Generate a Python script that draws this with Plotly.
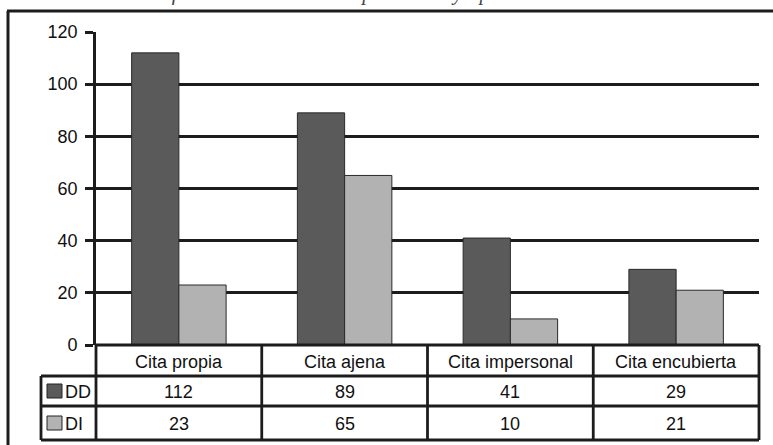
import plotly.graph_objects as go

categories = ["Cita propia", "Cita ajena", "Cita impersonal", "Cita encubierta"]
series_names = ["DD", "DI"]
dd_values = [112, 89, 41, 29]
di_values = [23, 65, 10, 21]
y_ticks = [0, 20, 40, 60, 80, 100, 120]
title_text = "Gráfico 3. Estilo de cita reproducida y tipo de cita"

W, H = 773, 445
L, R, T, B = 96, 759, 32, 345
colors = ["#5a5a5a", "#b2b2b2"]
LINE = "#1c1c1c"
FONT = "Liberation Sans, Arial, sans-serif"
FS = 18

def px(x):
    return (x - L) / (R - L)

def py(y):
    return (B - y) / (B - T)

fig = go.Figure()
for name, vals, col in zip(series_names, [dd_values, di_values], colors):
    fig.add_trace(go.Bar(x=categories, y=vals, name=name,
                         marker=dict(color=col, line=dict(color="#2a2a2a", width=1))))

shapes = []
def hline(x0, x1, y, w=2.8):
    shapes.append(dict(type="line", xref="paper", yref="paper", x0=px(x0), x1=px(x1),
                       y0=py(y), y1=py(y), line=dict(color=LINE, width=w)))
def vline(x, y0, y1, w=2.8):
    shapes.append(dict(type="line", xref="paper", yref="paper", x0=px(x), x1=px(x),
                       y0=py(y0), y1=py(y1), line=dict(color=LINE, width=w)))

# outer frame
hline(7, 773, 11, 3)
vline(8, 11, 445, 3)

# table
col_edges = [L + i * (R - L) / 4 for i in range(5)]
row_y = [345, 376, 406, 440]
for x in col_edges:
    vline(x, 345, 440)
vline(41, 376, 440)
hline(41, R, 376)
hline(41, R, 406)
hline(41, R, 440)
hline(L, R, 345)

annotations = []
def txt(s, x, y, xanchor="center", **kw):
    annotations.append(dict(text=s, x=px(x), y=py(y), xref="paper", yref="paper",
                            xanchor=xanchor, yanchor="middle", showarrow=False,
                            font=dict(family=FONT, size=FS, color="#111"), **kw))

for i, cat in enumerate(categories):
    cx = (col_edges[i] + col_edges[i + 1]) / 2
    txt(cat, cx, (row_y[0] + row_y[1]) / 2 + 1)
    for r, vals in enumerate([dd_values, di_values]):
        txt(str(vals[i]), cx, (row_y[r + 1] + row_y[r + 2]) / 2 + 1)

# legend keys in table
for r, (name, col) in enumerate(zip(series_names, colors)):
    yc = (row_y[r + 1] + row_y[r + 2]) / 2
    shapes.append(dict(type="rect", xref="paper", yref="paper",
                       x0=px(47), x1=px(62), y0=py(yc - 7), y1=py(yc + 7),
                       fillcolor=col, line=dict(color="#222", width=1)))
    txt(name, 63, yc + 1, xanchor="left")

# title, cut off at the top edge as in the source scan
annotations.append(dict(text=title_text, x=px(350), y=py(7), xref="paper", yref="paper",
                        xanchor="center", yanchor="bottom", showarrow=False,
                        font=dict(family="Liberation Serif, Times New Roman, serif",
                                  size=21, color="#444", style="italic")))

fig.update_layout(
    width=W, height=H,
    margin=dict(l=L, r=W - R, t=T, b=H - B),
    paper_bgcolor="white", plot_bgcolor="white",
    barmode="group", bargap=0.43, bargroupgap=0,
    showlegend=False,
    shapes=shapes, annotations=annotations,
    xaxis=dict(showticklabels=False, showgrid=False, ticks="", showline=False,
               zeroline=False),
    yaxis=dict(range=[0, 120], tickvals=y_ticks, showgrid=True, gridcolor=LINE,
               gridwidth=2.8, zeroline=False, showline=True, linecolor=LINE,
               linewidth=2.8, ticks="outside", ticklen=8, tickwidth=2.8,
               tickcolor=LINE, ticklabelstandoff=4,
               tickfont=dict(family=FONT, size=FS, color="#111")),
)

fig.write_html("out.html", config={"displayModeBar": False},
               post_script="document.body.style.margin='0';document.body.style.padding='0';")
